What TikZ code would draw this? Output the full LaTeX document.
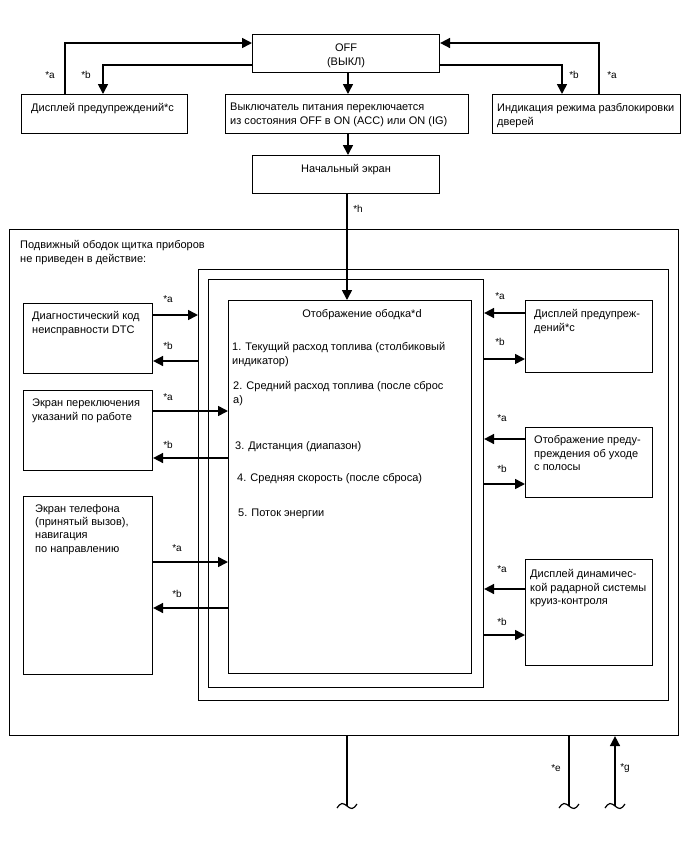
\documentclass[tikz,border=0pt]{standalone}
\usepackage{fontspec}
\setmainfont{Liberation Sans}
\usetikzlibrary{arrows.meta,positioning,calc}

\begin{document}
\begin{tikzpicture}[x=1pt,y=-1pt,font=\fontsize{11}{13.8}\selectfont,
    box/.style={draw,line width=1.1pt,rectangle,inner sep=0pt,anchor=north west},
    txt/.style={anchor=north west,align=left,inner sep=0pt},
    ctxt/.style={anchor=north,align=center,inner sep=0pt},
    tag/.style={inner sep=0pt,font=\fontsize{10}{11}\selectfont},
    wire/.style={line width=1.6pt},
    arr/.style={-{Triangle[length=10pt,width=10pt]},line width=1.6pt}]
  \useasboundingbox (0,0) rectangle (688,852);
  % top row
  \node[box,minimum width=187pt,minimum height=38pt] (off) at (252,34) {};
  \node[ctxt] (off-t) at ([yshift=-10pt]off.north) {OFF\\(ВЫКЛ)};
  \node[box,minimum width=166pt,minimum height=39pt] (warnL) at (21,94) {};
  \node[txt] (warnL-t) at (31,103) {Дисплей предупреждений*c};
  \node[box,minimum width=243pt,minimum height=39pt] (switch) at (225,94) {};
  \node[txt] (switch-t) at (230,103) {Выключатель питания переключается\\из состояния OFF в ON (ACC) или ON (IG)};
  \node[box,minimum width=188pt,minimum height=39pt] (doors) at (492,94) {};
  \node[txt] (doors-t) at (497,103) {Индикация режима разблокировки\\дверей};
  \node[box,minimum width=187pt,minimum height=38pt] (start) at (252,155) {};
  \node[ctxt] (start-t) at ([yshift=-9pt]start.north) {Начальный экран};
  % frames
  \node[box,minimum width=669pt,minimum height=506pt] (outer) at (9,229) {};
  \node[txt] (outer-t) at (20,240) {Подвижный ободок щитка приборов\\не приведен в действие:};
  \node[box,minimum width=470pt,minimum height=431pt] (frameA) at (198,269) {};
  \node[box,minimum width=275pt,minimum height=408pt] (frameB) at (208,279) {};
  \node[box,minimum width=243pt,minimum height=373pt] (rim) at (228,300) {};
  \node[ctxt] (rim-t) at (362,309) {Отображение ободка*d};
  \node[txt] (item1) at (232,342) {1. Текущий расход топлива (столбиковый\\индикатор)};
  \node[txt] (item2) at (233,381) {2. Средний расход топлива (после сброс\\а)};
  \node[txt] (item3) at (235,441) {3. Дистанция (диапазон)};
  \node[txt] (item4) at (237,473) {4. Средняя скорость (после сброса)};
  \node[txt] (item5) at (238,509) {5. Поток энергии};
  % left column
  \node[box,minimum width=129pt,minimum height=70pt] (dtc) at (23,303) {};
  \node[txt] (dtc-t) at (32,311) {Диагностический код\\неисправности DTC};
  \node[box,minimum width=129pt,minimum height=80pt] (guide) at (23,390) {};
  \node[txt] (guide-t) at (32,399) {Экран переключения\\указаний по работе};
  \node[box,minimum width=129pt,minimum height=178pt] (phone) at (23,496) {};
  \node[txt,font=\fontsize{11}{13.3}\selectfont] (phone-t) at (35,504) {Экран телефона\\(принятый вызов),\\навигация\\по направлению};
  % right column
  \node[box,minimum width=127pt,minimum height=72pt] (warnR) at (525,300) {};
  \node[txt] (warnR-t) at (534,309) {Дисплей предупреж-\\дений*c};
  \node[box,minimum width=127pt,minimum height=70pt] (lane) at (525,427) {};
  \node[txt] (lane-t) at (534,435) {Отображение преду-\\преждения об уходе\\с полосы};
  \node[box,minimum width=127pt,minimum height=106pt] (acc) at (525,559) {};
  \node[txt] (acc-t) at (530,569) {Дисплей динамичес-\\кой радарной системы\\круиз-контроля};

  % connectors, top
  \draw[arr] (off.west |- 0,65) -| (warnL.north -| 103,0);
  \draw[arr] (warnL.north -| 65,0) |- (off.west |- 0,43);
  \draw[arr] (off.east |- 0,65) -| (doors.north -| 562,0);
  \draw[arr] (doors.north -| 599,0) |- (off.east |- 0,43);
  \draw[arr] (off.south -| 348,0) -- (switch.north -| 348,0);
  \draw[arr] (switch.south -| 348,0) -- (start.north -| 348,0);
  \draw[arr] (start.south -| 347,0) -- (rim.north -| 347,0);
  \node[tag] (ta1) at (50,75) {*a};
  \node[tag] (tb1) at (86,75) {*b};
  \node[tag] (tb2) at (574,75) {*b};
  \node[tag] (ta2) at (612,75) {*a};
  \node[tag] (th) at (358,209) {*h};
  % connectors, left
  \draw[arr] (dtc.east |- 0,315) -- (frameA.west |- 0,315);
  \draw[arr] (frameA.west |- 0,361) -- (dtc.east |- 0,361);
  \draw[arr] (guide.east |- 0,411) -- (rim.west |- 0,411);
  \draw[arr] (rim.west |- 0,458) -- (guide.east |- 0,458);
  \draw[arr] (phone.east |- 0,562) -- (rim.west |- 0,562);
  \draw[arr] (rim.west |- 0,608) -- (phone.east |- 0,608);
  \node[tag] (ta3) at (168,299) {*a};
  \node[tag] (tb3) at (168,346) {*b};
  \node[tag] (ta4) at (168,397) {*a};
  \node[tag] (tb4) at (168,445) {*b};
  \node[tag] (ta5) at (177,548) {*a};
  \node[tag] (tb5) at (177,594) {*b};
  % connectors, right
  \draw[arr] (warnR.west |- 0,313) -- (frameB.east |- 0,313);
  \draw[arr] (frameB.east |- 0,359) -- (warnR.west |- 0,359);
  \draw[arr] (lane.west |- 0,439) -- (frameB.east |- 0,439);
  \draw[arr] (frameB.east |- 0,484) -- (lane.west |- 0,484);
  \draw[arr] (acc.west |- 0,589) -- (frameB.east |- 0,589);
  \draw[arr] (frameB.east |- 0,635) -- (acc.west |- 0,635);
  \node[tag] (ta6) at (500,296) {*a};
  \node[tag] (tb6) at (500,342) {*b};
  \node[tag] (ta7) at (502,418) {*a};
  \node[tag] (tb7) at (502,469) {*b};
  \node[tag] (ta8) at (502,569) {*a};
  \node[tag] (tb8) at (502,622) {*b};
  % bottom leads
  \coordinate (e1) at (347,806);
  \coordinate (e2) at (569,806);
  \coordinate (e3) at (615,806);
  \draw[wire] (e1 |- outer.south) -- (e1);
  \draw[wire] (e2 |- outer.south) -- (e2);
  \draw[arr] (e3) -- (e3 |- outer.south);
  \foreach \c in {e1,e2,e3}
    \draw[line width=1.2pt] ([shift={(-10pt,-2pt)}]\c) sin ++(5pt,4.5pt) cos ++(5pt,-2.5pt)
      sin ++(5pt,-2.5pt) cos ++(5pt,4.5pt);
  \node[tag] (te) at (556,768) {*e};
  \node[tag] (tg) at (625,768) {*g};
\end{tikzpicture}
\end{document}
